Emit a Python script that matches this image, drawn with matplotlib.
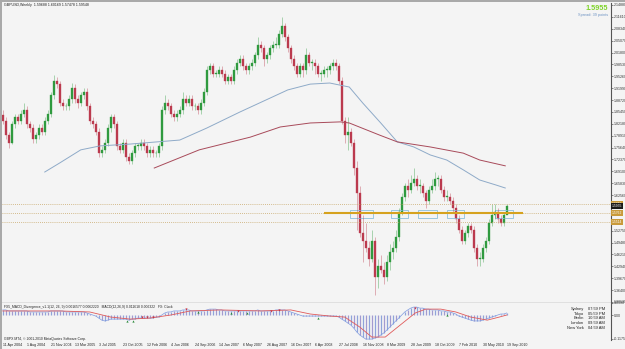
import numpy as np
import matplotlib
matplotlib.use("Agg")
import matplotlib.pyplot as plt
from matplotlib.patches import Rectangle
import matplotlib.transforms as mtransforms

plt.rcParams['font.family'] = ['Liberation Sans', 'DejaVu Sans']

# ---- data ----
# bi-weekly candles, candle k sits at week 2k (week 0 = 11 Apr 2004)
closes = [1.83, 1.79, 1.77, 1.82, 1.84, 1.83, 1.85, 1.86, 1.82, 1.81,
          1.78, 1.79, 1.81, 1.80, 1.83, 1.85, 1.90, 1.94, 1.93, 1.88,
          1.87, 1.87, 1.89, 1.92, 1.89, 1.88, 1.90, 1.91, 1.87, 1.83,
          1.82, 1.80, 1.74, 1.75, 1.77, 1.81, 1.84, 1.82, 1.76, 1.75,
          1.77, 1.73, 1.72, 1.74, 1.76, 1.76, 1.77, 1.76, 1.74, 1.75,
          1.74, 1.74, 1.76, 1.86, 1.88, 1.87, 1.85, 1.84, 1.85, 1.86,
          1.89, 1.88, 1.89, 1.87, 1.87, 1.86, 1.88, 1.91, 1.97, 1.98,
          1.96, 1.96, 1.97, 1.96, 1.94, 1.95, 1.94, 1.97, 1.99, 2.00,
          1.98, 1.97, 1.98, 1.99, 2.01, 2.04, 2.03, 2.00, 2.01, 2.03,
          2.04, 2.04, 2.07, 2.09, 2.06, 2.03, 2.00, 1.98, 1.96, 1.98,
          1.97, 2.01, 1.99, 1.99, 1.98, 1.96, 1.96, 1.97, 1.97, 1.98,
          1.99, 1.98, 1.94, 1.83, 1.79, 1.80, 1.77, 1.70, 1.63, 1.52,
          1.50, 1.48, 1.45, 1.50, 1.40, 1.43, 1.42, 1.40, 1.44, 1.47,
          1.48, 1.51, 1.58, 1.62, 1.65, 1.64, 1.66, 1.67, 1.65, 1.65,
          1.63, 1.61, 1.64, 1.65, 1.67, 1.67, 1.64, 1.62, 1.62, 1.61,
          1.59, 1.56, 1.53, 1.50, 1.52, 1.54, 1.53, 1.48, 1.45, 1.45,
          1.48, 1.50, 1.55, 1.57, 1.58, 1.56, 1.55, 1.57, 1.5955]
highs = [1.86, 1.84, 1.80, 1.83, 1.85, 1.85, 1.86, 1.88, 1.87, 1.83,
         1.82, 1.80, 1.82, 1.82, 1.84, 1.86, 1.91, 1.955, 1.95, 1.94,
         1.89, 1.88, 1.90, 1.935, 1.93, 1.90, 1.91, 1.92, 1.92, 1.88,
         1.84, 1.83, 1.81, 1.76, 1.78, 1.82, 1.85, 1.85, 1.83, 1.77,
         1.78, 1.78, 1.74, 1.75, 1.77, 1.77, 1.78, 1.78, 1.77, 1.76,
         1.76, 1.75, 1.77, 1.87, 1.90, 1.89, 1.88, 1.86, 1.86, 1.87,
         1.91, 1.90, 1.90, 1.90, 1.88, 1.88, 1.89, 1.92, 1.98, 1.99,
         1.99, 1.97, 1.98, 1.98, 1.97, 1.96, 1.96, 1.98, 2.00, 2.01,
         2.01, 1.99, 1.99, 2.00, 2.02, 2.06, 2.05, 2.04, 2.02, 2.04,
         2.05, 2.06, 2.08, 2.116, 2.10, 2.07, 2.04, 2.01, 1.99, 1.99,
         1.99, 2.03, 2.02, 2.00, 2.00, 1.99, 1.97, 1.98, 1.98, 1.99,
         2.00, 2.00, 1.99, 1.95, 1.84, 1.84, 1.81, 1.78, 1.72, 1.65,
         1.57, 1.55, 1.50, 1.53, 1.51, 1.45, 1.46, 1.44, 1.46, 1.49,
         1.50, 1.53, 1.59, 1.63, 1.66, 1.67, 1.68, 1.70, 1.68, 1.67,
         1.66, 1.64, 1.65, 1.67, 1.69, 1.68, 1.68, 1.65, 1.64, 1.63,
         1.62, 1.60, 1.57, 1.54, 1.53, 1.55, 1.55, 1.54, 1.49, 1.47,
         1.49, 1.51, 1.56, 1.60, 1.60, 1.59, 1.57, 1.58, 1.6017]
lows = [1.82, 1.78, 1.755, 1.765, 1.81, 1.82, 1.82, 1.84, 1.81, 1.80,
        1.77, 1.77, 1.78, 1.79, 1.79, 1.82, 1.84, 1.89, 1.92, 1.87,
        1.86, 1.86, 1.86, 1.88, 1.88, 1.865, 1.87, 1.89, 1.86, 1.82,
        1.81, 1.79, 1.73, 1.73, 1.74, 1.76, 1.80, 1.81, 1.75, 1.74,
        1.74, 1.72, 1.71, 1.71, 1.73, 1.75, 1.75, 1.75, 1.73, 1.73,
        1.73, 1.73, 1.73, 1.75, 1.85, 1.86, 1.84, 1.83, 1.83, 1.84,
        1.85, 1.87, 1.87, 1.86, 1.86, 1.85, 1.85, 1.87, 1.90, 1.96,
        1.95, 1.95, 1.95, 1.95, 1.93, 1.93, 1.93, 1.93, 1.96, 1.98,
        1.97, 1.96, 1.96, 1.97, 1.98, 2.00, 2.02, 1.98, 1.99, 2.00,
        2.02, 2.03, 2.03, 2.06, 2.05, 2.02, 1.99, 1.97, 1.95, 1.95,
        1.95, 1.96, 1.98, 1.97, 1.96, 1.95, 1.94, 1.95, 1.95, 1.96,
        1.97, 1.97, 1.93, 1.82, 1.77, 1.75, 1.76, 1.68, 1.53, 1.51,
        1.44, 1.47, 1.43, 1.44, 1.35, 1.37, 1.41, 1.38, 1.39, 1.42,
        1.45, 1.47, 1.50, 1.57, 1.61, 1.62, 1.63, 1.65, 1.64, 1.63,
        1.62, 1.59, 1.60, 1.63, 1.64, 1.65, 1.63, 1.61, 1.61, 1.60,
        1.58, 1.55, 1.52, 1.49, 1.49, 1.51, 1.52, 1.47, 1.43, 1.43,
        1.44, 1.47, 1.49, 1.54, 1.56, 1.55, 1.54, 1.54, 1.5748]
first_open = 1.845

# moving averages (week, price)
ma_blue_w = [28, 38, 52, 65, 85, 118, 136, 158, 190, 205, 218, 231, 240,
             252, 263, 274, 285, 296, 307, 318, 329, 335]
ma_blue_p = [1.689, 1.714, 1.750, 1.761, 1.766, 1.777, 1.810, 1.854, 1.915,
             1.931, 1.934, 1.923, 1.879, 1.824, 1.772, 1.758, 1.736, 1.722,
             1.695, 1.667, 1.653, 1.645]
ma_red_w = [101, 131, 165, 185, 205, 225, 231, 251, 263, 285, 307, 318, 335]
ma_red_p = [1.700, 1.750, 1.785, 1.813, 1.824, 1.827, 1.824, 1.791, 1.772,
            1.758, 1.741, 1.722, 1.706]

# support zone
level_dotted = [1.6010, 1.5762, 1.5514]
level_gold = 1.5762
level_gold_weeks = (214, 347)
zone_boxes = [(231.5, 246.8), (258.8, 270.2), (276.8, 289.5), (296.2, 307.5), (328.2, 340.2)]
zone_lo, zone_hi = 1.5624, 1.5844

# price axis labels
price_ticks = [2.14880, 2.11610, 2.08340, 2.05070, 2.01800, 1.98530, 1.95260,
               1.91990, 1.88720, 1.85450, 1.82180, 1.78910, 1.75640, 1.72370,
               1.69100, 1.65830, 1.62560, 1.52750, 1.49480,
               1.46210, 1.42940, 1.39670, 1.36400, 1.33130]

# MACD histogram, one bar per candle
macd_hist = [0.025, 0.025, 0.020, 0.020, 0.020, 0.020, 0.020,
             0.020, 0.020, 0.015, 0.015, 0.015, 0.015, 0.015,
             0.015, 0.015, 0.020, 0.020, 0.020, 0.020,
             0.020, 0.015, 0.015, 0.015, 0.015, 0.015, 0.015, 0.015, 0.010,
             0.005, 0.000, -0.005, -0.015, -0.025,
             -0.029, -0.025, -0.020, -0.020, -0.020,
             -0.020, -0.020, -0.020, -0.025, -0.020, -0.020, -0.015,
             -0.015, -0.015, -0.015, -0.015, -0.015, -0.010, -0.010,
             0.000, 0.010, 0.015, 0.015,
             0.020, 0.020, 0.020, 0.025, 0.025, 0.025, 0.020, 0.020, 0.020, 0.020,
             0.020, 0.025, 0.029, 0.029, 0.029, 0.025, 0.025, 0.020, 0.020,
             0.020, 0.020, 0.020, 0.020, 0.020, 0.020, 0.020, 0.020, 0.020, 0.025,
             0.020, 0.020, 0.020, 0.020, 0.020, 0.025, 0.025, 0.025, 0.025, 0.020,
             0.015, 0.010, 0.005, 0.000, -0.005, -0.005, -0.005, -0.005,
             -0.005, -0.005, -0.005, -0.005, -0.005, -0.005, -0.005, -0.005, -0.010,
             -0.020, -0.029, -0.039, -0.049, -0.064, -0.083,
             -0.098, -0.108, -0.118, -0.118, -0.118, -0.113,
             -0.108, -0.098, -0.088, -0.074, -0.059, -0.044, -0.029,
             -0.015, 0.000, 0.015, 0.025, 0.034, 0.039,
             0.039, 0.034, 0.034, 0.029, 0.029, 0.025, 0.025, 0.025,
             0.020, 0.020, 0.015, 0.015, 0.010, 0.005, -0.005,
             -0.010, -0.015, -0.020, -0.025, -0.029, -0.029, -0.029,
             -0.025, -0.020, -0.015, -0.010, -0.005, 0.000,
             0.005, 0.005, 0.010]
signal_w = [0, 38, 58, 72, 85, 98, 112, 125, 145, 172, 192, 205, 218, 228,
            238, 246, 255, 265, 275, 282, 292, 302, 312, 323, 331, 336]
signal_v = [0.020, 0.020, 0.015, -0.010, -0.020, -0.015, 0.000, 0.020, 0.025,
            0.020, 0.025, 0.005, -0.005, -0.010, -0.059, -0.108, -0.108,
            -0.049, 0.010, 0.029, 0.029, 0.015, -0.010, -0.025, -0.010, 0.000]
arrow_up_w = [83, 87, 130, 152, 163, 210, 296]
arrow_up_v = [-0.029, -0.029, 0.015, 0.010, 0.010, -0.015, 0.000]
arrow_dn_w = [93, 96, 100, 122, 157, 179, 184, 275]
arrow_dn_v = [-0.010, -0.010, -0.010, 0.029, 0.020, 0.020, 0.025, 0.034]

date_labels = ["11 Apr 2004", "1 Aug 2004", "21 Nov 2004", "13 Mar 2005", "3 Jul 2005",
               "23 Oct 2005", "12 Feb 2006", "4 Jun 2006", "24 Sep 2006", "14 Jan 2007",
               "6 May 2007", "26 Aug 2007", "16 Dec 2007", "6 Apr 2008", "27 Jul 2008",
               "16 Nov 2008", "8 Mar 2009", "28 Jun 2009", "18 Oct 2009", "7 Feb 2010",
               "30 May 2010", "19 Sep 2010"]
clock_cities = ["Sydney", "Tokyo", "Berlin", "London", "New York"]
clock_times = ["07:59 PM", "05:59 PM", "10:59 AM", "09:59 AM", "04:59 AM"]

# ---- figure ----
W, H = 625, 349
bg = '#f4f4f4'
fig = plt.figure(figsize=(W / 100, H / 100), dpi=100, facecolor=bg)

def fx(px):
    return px / W

def fy(py):
    return 1 - py / H

ax = fig.add_axes([fx(2), fy(303), fx(611 - 2), (303 - 3) / H], facecolor=bg)
axm = fig.add_axes([fx(2), fy(340), fx(611 - 2), (340 - 303) / H], facecolor=bg, sharex=ax)

ax.set_xlim(-0.5, 405.5)
ax.set_ylim(1.3284, 2.1543)

weeks = np.arange(len(closes)) * 2
opens = [first_open] + closes[:-1]
bull_c, bear_c = '#2f9a3f', '#bb3a4e'
for w, o, h, l, c in zip(weeks, opens, highs, lows, closes):
    col = bull_c if c >= o else bear_c
    ax.vlines(w, l, h, color=col, lw=0.45, alpha=0.6)
    ax.add_patch(Rectangle((w - 0.5, min(o, c)), 1.0, max(abs(c - o), 0.002),
                           facecolor=col, edgecolor=col, lw=0.25))

ax.plot(ma_blue_w, ma_blue_p, color='#8eaac8', lw=0.7)
ax.plot(ma_red_w, ma_red_p, color='#a84a5a', lw=0.7)

for lv in level_dotted:
    ax.axhline(lv, color='#c9a86a', lw=0.6, ls=(0, (1, 1.5)))
ax.hlines(level_gold, *level_gold_weeks, color='#d6a21e', lw=1.5)
for a, b in zone_boxes:
    ax.add_patch(Rectangle((a, zone_lo), b - a, zone_hi - zone_lo, fill=False,
                           edgecolor='#8cc0dc', lw=0.6))

# price axis
ax.yaxis.tick_right()
ax.set_yticks(price_ticks)
ax.set_yticklabels([f"{t:.5f}" for t in price_ticks])
ax.tick_params(axis='y', labelsize=2.6, length=1.5, width=0.4, pad=0.6, colors='#333333')
ax.tick_params(axis='x', bottom=False, labelbottom=False)
for s in ['top', 'left']:
    ax.spines[s].set_visible(False)
ax.spines['right'].set_color('#555555')
ax.spines['right'].set_linewidth(0.8)
ax.spines['bottom'].set_color('#555555')
ax.spines['bottom'].set_linewidth(0.9)

# price marker boxes on the axis
tr = mtransforms.blended_transform_factory(ax.transAxes, ax.transData)
for lv in level_dotted:
    ax.text(1.001, lv, f"{lv:.4f}", transform=tr, fontsize=2.4, color='white', va='center',
            ha='left', clip_on=False,
            bbox=dict(boxstyle='square,pad=0.25', fc='#c99a3a', ec='none'))
ax.text(1.001, closes[-1], f"{closes[-1]:.4f}", transform=tr, fontsize=2.4, color='white',
        va='center', ha='left', clip_on=False,
        bbox=dict(boxstyle='square,pad=0.25', fc='#1a1a1a', ec='none'))

# header texts
fig.text(fx(4), fy(5), "GBPUSD,Weekly  1.59688 1.60169 1.57478 1.59548", fontsize=2.6,
         color='#222222', va='center', ha='left')
fig.text(fx(608), fy(9), f"{closes[-1]:.4f}", fontsize=5.2, fontweight='bold', color='#7fd42a',
         va='center', ha='right')
fig.text(fx(608), fy(15), "Spread: 39 points", fontsize=2.8, color='#6f94c4', va='center', ha='right')

# ---- MACD panel ----
axm.set_ylim(-0.1225, 0.0590)
cols = ['#8ea4da', '#a39ad0']
for i, (w, v) in enumerate(zip(weeks, macd_hist)):
    axm.vlines(w, 0, v, color=cols[i % 2], lw=0.9)
axm.plot(weeks, macd_hist, color='#7d9ae0', lw=0.5)
axm.plot(signal_w, signal_v, color='#e05a5a', lw=0.6)
axm.plot(arrow_up_w, arrow_up_v, ls='none', marker='^', ms=1.6, color='#2c8a3a', mew=0)
axm.plot(arrow_dn_w, arrow_dn_v, ls='none', marker='v', ms=1.6, color='#c83040', mew=0)

axm.yaxis.tick_right()
axm.set_yticks([0.0590, 0.0, -0.1175])
axm.set_yticklabels(["0.0590", "0.00", "-0.1175"])
axm.tick_params(axis='y', labelsize=2.6, length=1.5, width=0.4, pad=0.6, colors='#333333')
axm.tick_params(axis='x', bottom=False, labelbottom=False)
for s in ['top', 'left', 'bottom']:
    axm.spines[s].set_visible(False)
axm.spines['right'].set_color('#555555')
axm.spines['right'].set_linewidth(0.8)

fig.text(fx(4), fy(307), "FX5_MACD_Divergence_v1.1(12, 26, 9) 0.0016577 0.0062220   MACD(12,26,9) 0.011618 0.006322   FX: Clock",
         fontsize=2.4, color='#222222', va='center', ha='left')
fig.text(fx(4), fy(339), "GBPX MT4, \u00a9 2001-2010 MetaQuotes Software Corp.", fontsize=2.4,
         color='#222222', va='center', ha='left')

for i, (cty, tm) in enumerate(zip(clock_cities, clock_times)):
    yy = 309 + i * 4.7
    fig.text(fx(584), fy(yy), cty, fontsize=2.9, color='#222222', ha='right', va='center')
    fig.text(fx(588), fy(yy), tm, fontsize=2.9, color='#222222', ha='left', va='center')

# date labels
trd = mtransforms.blended_transform_factory(axm.transData, fig.transFigure)
for i, lab in enumerate(date_labels):
    axm.text(i * 16, fy(345), lab, transform=trd, fontsize=2.6, color='#222222',
             va='center', ha='left', clip_on=False)

# window frame
fig.patches.append(Rectangle((0, fy(2)), 1, 2 / H, transform=fig.transFigure,
                             facecolor='#a9a9a9', edgecolor='none'))
fig.patches.append(Rectangle((0, 0), fx(2), 1, transform=fig.transFigure,
                             facecolor='#a9a9a9', edgecolor='none'))

fig.savefig("out.png", dpi=100, facecolor=bg)
